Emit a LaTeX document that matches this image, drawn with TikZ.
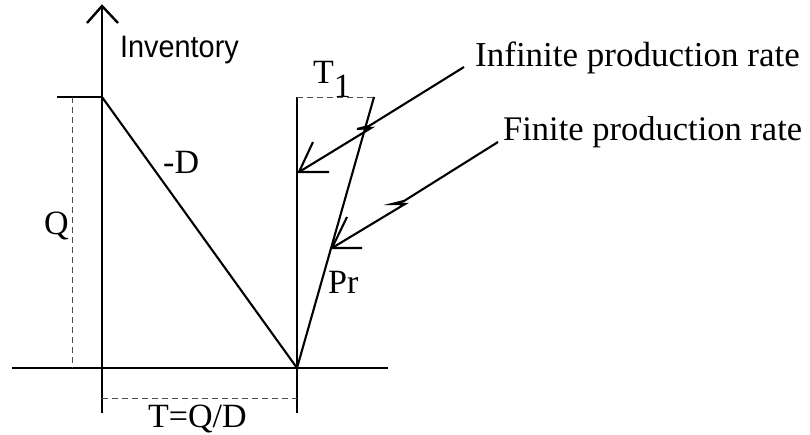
\documentclass[tikz,border=0pt]{standalone}
\usepackage{fontspec}
\setmainfont{Liberation Serif}
\newfontfamily\sansf[FakeStretch=0.93]{Liberation Sans}
\begin{document}
\begin{tikzpicture}[x=1pt,y=-1pt,
  mainline/.style={line width=2.4pt, black},
  thinline/.style={line width=2.1pt, black},
  dimline/.style={line width=0.9pt, dash pattern=on 6pt off 4pt, black!70},
  lbl/.style={inner sep=0pt, anchor=base west, font=\fontsize{34}{38}\selectfont},
  slbl/.style={inner sep=0pt, anchor=base west, font=\sansf\fontsize{31}{34}\selectfont}]
\useasboundingbox (0,0) rectangle (810,434);
% key points
\coordinate (O) at (102,368);
\coordinate (Ytop) at (102,6);
\coordinate (Ybot) at (102,413);
\coordinate (Xl) at (12,368);
\coordinate (Xr) at (388,368);
\coordinate (Qtop) at (102,97);
\coordinate (TickL) at (57,97);
\coordinate (Tend) at (297,368);
\coordinate (Vtop) at (297,97);
\coordinate (Vbot) at (297,413);
\coordinate (Ftop) at (374,97);
\coordinate (QdT) at (72,97);
\coordinate (QdB) at (72,368);
\coordinate (TdL) at (102,398);
\coordinate (TdR) at (297,398);
\coordinate (Yb1) at (87,23);
\coordinate (Yb2) at (118,23);
% axes
\draw[mainline] (Ybot) -- (Ytop);
\draw[mainline, line join=miter] (Yb1) -- (Ytop) -- (Yb2);
\draw[mainline] (Xl) -- (Xr);
\draw[mainline] (TickL) -- (Qtop);
% demand and production lines
\draw[thinline] (Qtop) -- (Tend);
\draw[mainline] (Vbot) -- (Vtop);
\draw[thinline] (Tend) -- (Ftop);
% dimension lines
\draw[dimline] (QdT) -- (QdB);
\draw[dimline] (Vtop) -- (Ftop);
\draw[dimline] (TdL) -- (TdR);
% labels
\node[slbl] (inv) at (120,57) {Inventory};
\node[lbl] (t1) at (313,83) {T\raisebox{-14pt}{1}};
\node[lbl] (md) at (163,173) {-D};
\node[lbl] (q) at (44,234) {Q};
\node[lbl] (pr) at (328,293) {Pr};
\node[lbl] (tqd) at (148,427) {T=Q/D};
\node[lbl, font=\fontsize{35}{40}\selectfont] (inf) at (475,66) {Infinite production rate};
\node[lbl, font=\fontsize{34.5}{40}\selectfont] (fin) at (503,140) {Finite production rate};
% infinite production rate pointer
\coordinate (S1) at (464,67);
\coordinate (I) at (299,172);
\draw[thinline, line join=miter] (S1) -- (369,126) -- (357,129) -- (371,128) -- (I);
\draw[thinline, line join=miter] (329,172) -- (I) -- (313,142);
% finite production rate pointer
\coordinate (S2) at (498,142);
\coordinate (F) at (332,248);
\draw[thinline, line join=miter] (S2) -- (404,201) -- (392,204) -- (405,204) -- (F);
\draw[thinline, line join=miter] (362,248) -- (F) -- (347,217);
\end{tikzpicture}
\end{document}
